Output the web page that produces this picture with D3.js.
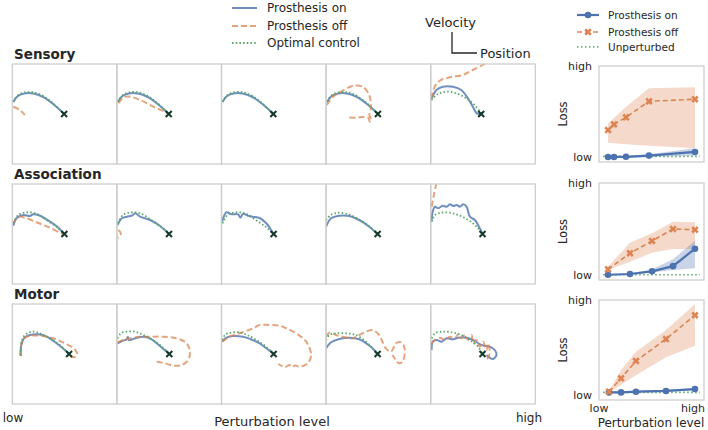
<!DOCTYPE html>
<html>
<head>
<meta charset="utf-8">
<script src="https://cdn.jsdelivr.net/npm/d3@7"></script>
<style>
  body { margin: 0; background: #fff; }
  svg { font-family: "DejaVu Sans", sans-serif; }
</style>
</head>
<body>
<svg width="708" height="430"></svg>
<script>
// ---- data ----
const regions = ["Sensory", "Association", "Motor"];
const trajNames = ["Prosthesis on", "Prosthesis off", "Optimal control"];
const lossNames = ["Prosthesis on", "Prosthesis off", "Unperturbed"];
const levelTicks = ["low", "high"];

// trajectories as [position, velocity], one list per perturbation level
const sensoryOptBase = [[1,62.3],[6,69],[12.7,71.7],[21,71.7],[31,68],[41,60.7],[52,50]];
const sensoryOnBase = [[1,62],[5,67.5],[12,70.5],[21,70.5],[31,67],[41,60],[52,50]];
const sensoryOpt = [sensoryOptBase, sensoryOptBase, sensoryOptBase, sensoryOptBase,
  [[0.7,64],[7.3,70],[15.7,72.3],[25.7,70.7],[35.7,65.7],[44,59],[50.7,50.7]]];
const sensoryOn = [sensoryOnBase, sensoryOnBase, sensoryOnBase, sensoryOnBase,
  [[0.7,64.7],[5.7,74],[12.3,77.3],[22.3,77.3],[30.7,74],[37.3,65.7],[42.3,57.3],[46.3,50.7],[50.7,50]]];
const sensoryOff = [
  [[1,57.3],[7.7,54],[12.7,49]],
  [[1.6,60.7],[6.6,66.7],[13.3,67.3],[23.3,64],[36.6,57.3],[50,51.3],[52,50]],
  [],
  [[0.7,59],[7,67.3],[15,72.3],[26.7,78],[36.7,77.3],[43.3,69],[45,57.3],[43.5,49],[45.5,44],[44,42.3],[42,46.5],[36.7,47],[30,46.3],[21.7,46.5]],
  [[0.7,65.7],[4,77.3],[9,83.3],[19,86.7],[32.3,89],[42.3,94],[54,100],[58,103]]
];
const sensoryTarget = [[52,50],[52,50],[52,50],[52,50],[50.7,50]];

const associationOptBase = [[1,60.7],[6,69],[14.3,71.7],[24.3,70.3],[34.3,64],[44.3,57.3],[52.3,50]];
const associationOpt = [associationOptBase, associationOptBase, associationOptBase,
  [[0,63.7],[5,69.3],[13.3,71.3],[23.3,69.3],[33.3,64.3],[43.3,57.7],[51.7,50]],
  [[1,62.3],[4.3,69],[11,71.3],[19.3,71.3],[29.3,68.3],[39.3,63],[47.6,55.7],[52,50]]];
const associationOn = [
  [[1,58.3],[4.3,65.7],[11,69],[17.7,68],[21,69.7],[26,69],[34.3,64.7],[44.3,58],[52.3,50]],
  [[0.7,59],[5,65.7],[10,67.3],[15,68.3],[18.3,70.7],[23.3,67.3],[33.3,64],[43.3,58],[52.3,50]],
  [[0.6,62.3],[5,71.7],[10,69.7],[16.6,69.7],[19,66.3],[21.7,70.3],[26.6,68.3],[31.6,67.3],[38.3,66],[45,60.7],[48.5,56],[52.3,50]],
  [[0,57.3],[5,65.7],[13.3,68.3],[23.3,68],[33.3,64],[43.3,57.3],[51.7,50]],
  [[1,63],[2,72.3],[4.3,77.3],[7.6,75.7],[12,78.3],[16,77.3],[19.3,79.7],[22.6,78],[26,79],[29.3,77.3],[32.6,79.7],[36,77.3],[39.3,67.3],[44.3,64],[49.3,55.7],[52,50]]
];
const associationOff = [
  [[1,60.7],[6,67.3],[12.7,66.3],[24.3,61.7],[37.7,56.3],[49.3,50.7],[52,50]],
  [[1.6,54],[4,50.7],[2.6,47.3],[0.7,46.3]],
  [],
  [],
  [[1,77.3],[3,88],[5.3,99],[6,102]]
];
const associationTarget = [[52.3,50],[52.3,50],[52.3,50],[51.7,50],[52,50]];

const motorOpt = [
  [[8.4,49],[9.4,62.3],[12.7,69],[19.4,72.3],[27.7,70.7],[37.7,65.7],[47.7,59],[57,50]],
  [[0.6,65.7],[4,70.7],[10,72.3],[18.3,72.3],[26.6,69],[36,64],[45,57.5],[52.6,50]],
  [[0.6,64],[4,69.5],[10,71.5],[18.3,71.5],[26.6,68.5],[36,63.5],[45,57],[52.3,50]],
  [[0,64],[3.3,69],[10,70.7],[20,70.7],[30,69],[40,62.3],[46.6,55.7],[51.7,50]],
  [[1,65.7],[4.3,70.7],[11,72.3],[21,71.7],[31,69],[39.3,64],[47.6,57.3],[52,50]]
];
const motorOn = [
  [[8.4,48],[9,59],[11.7,65.7],[17.7,69],[26,69.7],[34.4,67.3],[44.4,60.7],[52.7,54],[57,50]],
  [[0.6,60.7],[5,63],[10,64.7],[11,67.3],[12,64],[20,66.3],[26.6,67.3],[33.3,65.7],[40,60.7],[46.6,55],[52.6,50]],
  [[0.6,62.3],[5,66.3],[11.6,68],[21.6,67.3],[30,64.5],[38.3,60.7],[45,55.7],[52.3,50]],
  [[0,55.7],[5,61.7],[13.3,65],[23.3,66.3],[33.3,64.7],[41.6,59.7],[48.3,54],[51.7,50]],
  [[1,54],[2,62.3],[6,64],[11,62.3],[16,65.7],[22.6,64.7],[27.6,66.3],[36,66.3],[42.6,64],[51,59],[59.3,57.3],[64.3,54],[66,49],[62.6,45],[59.3,46.3],[56,49]]
];
const motorOff = [
  [[8.4,48],[9,59],[12.7,66.3],[19.4,68.3],[29.4,68.3],[41,65.7],[52.7,60.7],[61.7,55.7],[65,50.7],[63.7,47.3],[59.4,47.3],[57,50]],
  [[0.6,61.7],[6.6,64],[16.6,66.3],[23.3,67.3],[33.3,67.3],[46.6,67.3],[60,65.7],[70,60.7],[73.3,52.3],[71.6,44],[65,39],[56.6,38.3],[48.3,40.7],[40,42.3]],
  [[0.6,62.3],[8.3,67.3],[18.3,70.7],[31.6,75.7],[38.3,79],[48.3,79],[58.3,78.3],[65,75.7],[75,70.7],[85,62.3],[90,49],[86.6,40.7],[78.3,37.3],[74,38.5],[71,37],[68.3,39],[64,37],[60,38.3],[57,40]],
  [[0,67.3],[3.3,71.3],[10,69],[16.6,67.3],[26.6,65.7],[33.3,69],[40,72.3],[46.6,74],[53.3,69],[56.6,62.3],[60,55.7],[65,52.3],[68.3,57.3],[70,60.7],[75,61.7],[78.3,57.3],[79,50.7],[76.6,42.3],[73.3,40.7],[70,44],[66.6,49]],
  [[1,60.7],[4.3,64],[9.3,66.3],[14.3,64],[19.3,67.3],[24.3,65.7],[27.6,69.7],[31,65.7],[34.3,69],[37.6,64],[41,69],[42.6,60.7],[46,64],[49.3,57.3],[52.6,62.3],[56,54],[57.6,60.7],[59.3,50.7],[56,44]]
];
const motorTarget = [[57,50],[52.6,50],[52.3,50],[51.7,50],[52,50]];

// loss vs perturbation level (normalised, 0 = low, 1 = high)
const sensoryLevels = [0.086, 0.143, 0.257, 0.476, 0.914];
const sensoryLossOn = [0.005, 0.005, 0.007, 0.02, 0.06];
const sensoryLossOnLo = [0, 0, 0, 0.005, 0.02];
const sensoryLossOnHi = [0.01, 0.01, 0.015, 0.035, 0.10];
const sensoryLossOff = [0.30, 0.362, 0.439, 0.614, 0.636];
const sensoryLossOffLo = [0.161, 0.154, 0.144, 0.128, 0.10];
const sensoryLossOffHi = [0.373, 0.432, 0.555, 0.756, 0.767];
const sensoryUnperturbed = 0.012;

const associationLevels = [0.086, 0.295, 0.505, 0.705, 0.914];
const associationLossOn = [0.007, 0.015, 0.044, 0.10, 0.289];
const associationLossOnLo = [0, 0.005, 0.03, 0.058, 0.077];
const associationLossOnHi = [0.012, 0.02, 0.066, 0.174, 0.375];
const associationLossOff = [0.066, 0.24, 0.372, 0.502, 0.494];
const associationLossOffLo = [0.058, 0.148, 0.245, 0.286, 0.286];
const associationLossOffHi = [0.094, 0.354, 0.455, 0.58, 0.575];
const associationUnperturbed = 0.007;

const motorLevels = [0.095, 0.21, 0.352, 0.638, 0.914];
const motorLossOn = [0.03, 0.03, 0.037, 0.045, 0.065];
const motorLossOnLo = [0.02, 0.02, 0.027, 0.035, 0.055];
const motorLossOnHi = [0.04, 0.04, 0.047, 0.055, 0.075];
const motorLossOff = [0.037, 0.178, 0.36, 0.59, 0.84];
const motorLossOffLo = [0.03, 0.11, 0.21, 0.40, 0.52];
const motorLossOffHi = [0.04, 0.265, 0.457, 0.685, 0.955];
const motorUnperturbed = 0.03;

// ---- styles ----
const blue = "#4C72B0", orange = "#DD8452", green = "#55A868", spine = "#cccccc";
const trajOn = [sensoryOn, associationOn, motorOn];
const trajOff = [sensoryOff, associationOff, motorOff];
const trajOpt = [sensoryOpt, associationOpt, motorOpt];
const targets = [sensoryTarget, associationTarget, motorTarget];
const lossRows = [
  {levels: sensoryLevels, on: sensoryLossOn, onLo: sensoryLossOnLo, onHi: sensoryLossOnHi,
   off: sensoryLossOff, offLo: sensoryLossOffLo, offHi: sensoryLossOffHi, base: sensoryUnperturbed},
  {levels: associationLevels, on: associationLossOn, onLo: associationLossOnLo, onHi: associationLossOnHi,
   off: associationLossOff, offLo: associationLossOffLo, offHi: associationLossOffHi, base: associationUnperturbed},
  {levels: motorLevels, on: motorLossOn, onLo: motorLossOnLo, onHi: motorLossOnHi,
   off: motorLossOff, offLo: motorLossOffLo, offHi: motorLossOffHi, base: motorUnperturbed}
];

const svg = d3.select("svg");

// ---- trajectory grid ----
const trajLeft = 12.3, trajW = 104.6, trajH = 100;
const rowTops = [64, 184, 304];
const pos = d3.scaleLinear().domain([0, 105]).range([0, trajW]);
const vel = d3.scaleLinear().domain([0, 100]).range([trajH, 0]);
const trajLine = d3.line().x(d => pos(d[0])).y(d => vel(d[1])).curve(d3.curveCatmullRom.alpha(0.5));

regions.forEach(function(name, r) {
  svg.append("text")
    .attr("x", 14).attr("y", rowTops[r] - 5)
    .style("font-size", "13.5px").style("font-weight", "bold").style("fill", "#262626")
    .text(name);

  for (let i = 0; i < 5; i++) {
    const g = svg.append("g").attr("transform", "translate(" + (trajLeft + i * trajW) + "," + rowTops[r] + ")");
    const clipId = "clip-" + r + "-" + i;
    g.append("clipPath").attr("id", clipId)
      .append("rect").attr("width", trajW).attr("height", trajH);
    const inner = g.append("g").attr("clip-path", "url(#" + clipId + ")");

    inner.append("path").datum(trajOn[r][i])
      .attr("d", trajLine).style("fill", "none")
      .style("stroke", blue).style("stroke-opacity", 0.8).style("stroke-width", 2);
    if (trajOff[r][i].length)
      inner.append("path").datum(trajOff[r][i])
        .attr("d", trajLine).style("fill", "none")
        .style("stroke", orange).style("stroke-opacity", 0.75).style("stroke-width", 2)
        .style("stroke-dasharray", "6,3");
    inner.append("path").datum(trajOpt[r][i])
      .attr("d", trajLine).style("fill", "none")
      .style("stroke", green).style("stroke-width", 1.8)
      .style("stroke-dasharray", "1.5,2.2");

    g.append("rect").attr("width", trajW).attr("height", trajH)
      .style("fill", "none").style("stroke", spine).style("stroke-width", 1.25);

    const t = targets[r][i], tx = pos(t[0]), ty = vel(t[1]), s = 3;
    g.append("path")
      .attr("d", "M" + (tx - s) + "," + (ty - s) + "L" + (tx + s) + "," + (ty + s) +
                 "M" + (tx - s) + "," + (ty + s) + "L" + (tx + s) + "," + (ty - s))
      .style("stroke", "#143828").style("stroke-width", 2);
  }
});

// bottom axis labels of the grid
svg.append("text").attr("x", 13).attr("y", 422).attr("text-anchor", "middle")
  .style("font-size", "12px").style("fill", "#262626").text(levelTicks[0]);
svg.append("text").attr("x", 529).attr("y", 422).attr("text-anchor", "middle")
  .style("font-size", "12px").style("fill", "#262626").text(levelTicks[1]);
svg.append("text").attr("x", 272).attr("y", 426).attr("text-anchor", "middle")
  .style("font-size", "13px").style("fill", "#262626").text("Perturbation level");

// top legend
const legY = [8, 26, 43];
const legStyles = [
  {stroke: blue, op: 0.8, dash: null, w: 2},
  {stroke: orange, op: 0.75, dash: "6,3", w: 2},
  {stroke: green, op: 1, dash: "1.5,2.2", w: 1.8}
];
trajNames.forEach(function(n, k) {
  svg.append("line").attr("x1", 232).attr("x2", 257).attr("y1", legY[k]).attr("y2", legY[k])
    .style("stroke", legStyles[k].stroke).style("stroke-opacity", legStyles[k].op)
    .style("stroke-width", legStyles[k].w).style("stroke-dasharray", legStyles[k].dash);
  svg.append("text").attr("x", 267).attr("y", legY[k]).attr("dy", "0.35em")
    .style("font-size", "12px").style("fill", "#262626").text(n);
});

// axis key
svg.append("text").attr("x", 425).attr("y", 22).attr("dy", "0.35em")
  .style("font-size", "13px").style("fill", "#262626").text("Velocity");
svg.append("path").attr("d", "M452,32V53H477")
  .style("fill", "none").style("stroke", "#262626").style("stroke-width", 1.3);
svg.append("text").attr("x", 480).attr("y", 53).attr("dy", "0.35em")
  .style("font-size", "13px").style("fill", "#262626").text("Position");

// ---- loss panels ----
const lossX = d3.scaleLinear().domain([0, 1]).range([599, 704]);
const lossTops = [66, 183, 300], lossHs = [96, 97, 100];
const xSym = d3.symbol().type(d3.symbolCross).size(34);

lossRows.forEach(function(row, r) {
  const y = d3.scaleLinear().domain([-0.05, 1]).range([lossTops[r] + lossHs[r], lossTops[r]]);
  const g = svg.append("g");

  const band = function(lo, hi) {
    return d3.area().x((d, i) => lossX(row.levels[i])).y0((d, i) => y(lo[i])).y1((d, i) => y(hi[i]))(row.levels);
  };
  const ln = function(vals) {
    return d3.line().x((d, i) => lossX(row.levels[i])).y(d => y(d))(vals);
  };

  g.append("rect").attr("x", lossX(0)).attr("y", lossTops[r]).attr("width", lossX(1) - lossX(0)).attr("height", lossHs[r])
    .style("fill", "none").style("stroke", spine).style("stroke-width", 1.25);

  g.append("path").attr("d", band(row.offLo, row.offHi)).style("fill", orange).style("fill-opacity", 0.3);
  g.append("path").attr("d", band(row.onLo, row.onHi)).style("fill", blue).style("fill-opacity", 0.3);

  g.append("line").attr("x1", lossX(0.04)).attr("x2", lossX(0.96)).attr("y1", y(row.base)).attr("y2", y(row.base))
    .style("stroke", green).style("stroke-width", 1.6).style("stroke-dasharray", "1.5,2.5");

  g.append("path").attr("d", ln(row.on)).style("fill", "none").style("stroke", blue).style("stroke-width", 2.2);
  g.selectAll(null).data(row.on).enter().append("circle")
    .attr("cx", (d, i) => lossX(row.levels[i])).attr("cy", d => y(d)).attr("r", 3.3)
    .style("fill", blue);

  g.append("path").attr("d", ln(row.off)).style("fill", "none").style("stroke", orange)
    .style("stroke-width", 1.6).style("stroke-dasharray", "5,3");
  g.selectAll(null).data(row.off).enter().append("path")
    .attr("d", xSym)
    .attr("transform", (d, i) => "translate(" + lossX(row.levels[i]) + "," + y(d) + ") rotate(45)")
    .style("fill", orange);

  // y ticks
  [0, 1].forEach(function(v) {
    svg.append("text").attr("x", 592).attr("y", y(v)).attr("dy", "0.35em").attr("text-anchor", "end")
      .style("font-size", "11px").style("fill", "#262626").text(levelTicks[v]);
  });
  svg.append("text")
    .attr("transform", "translate(567," + (lossTops[r] + lossHs[r] / 2) + ") rotate(-90)")
    .attr("text-anchor", "middle")
    .style("font-size", "11.5px").style("fill", "#262626").text("Loss");
});

// loss x axis
svg.append("text").attr("x", 599).attr("y", 412).attr("text-anchor", "middle")
  .style("font-size", "11px").style("fill", "#262626").text(levelTicks[0]);
svg.append("text").attr("x", 693).attr("y", 412).attr("text-anchor", "middle")
  .style("font-size", "11px").style("fill", "#262626").text(levelTicks[1]);
svg.append("text").attr("x", 651).attr("y", 427).attr("text-anchor", "middle")
  .style("font-size", "12px").style("fill", "#262626").text("Perturbation level");

// loss legend
const lossLegY = [15, 32, 47];
lossNames.forEach(function(n, k) {
  const yy = lossLegY[k];
  const l = svg.append("line").attr("x1", 577).attr("x2", 599).attr("y1", yy).attr("y2", yy);
  if (k === 0) {
    l.style("stroke", blue).style("stroke-width", 2.2);
    svg.append("circle").attr("cx", 588).attr("cy", yy).attr("r", 3.3).style("fill", blue);
  } else if (k === 1) {
    l.style("stroke", orange).style("stroke-width", 1.6).style("stroke-dasharray", "5,3");
    svg.append("path").attr("d", xSym).attr("transform", "translate(588," + yy + ") rotate(45)").style("fill", orange);
  } else {
    l.style("stroke", green).style("stroke-width", 1.6).style("stroke-dasharray", "1.5,2.5");
  }
  svg.append("text").attr("x", 608).attr("y", yy).attr("dy", "0.35em")
    .style("font-size", "10.5px").style("fill", "#262626").text(n);
});
</script>
</body>
</html>
